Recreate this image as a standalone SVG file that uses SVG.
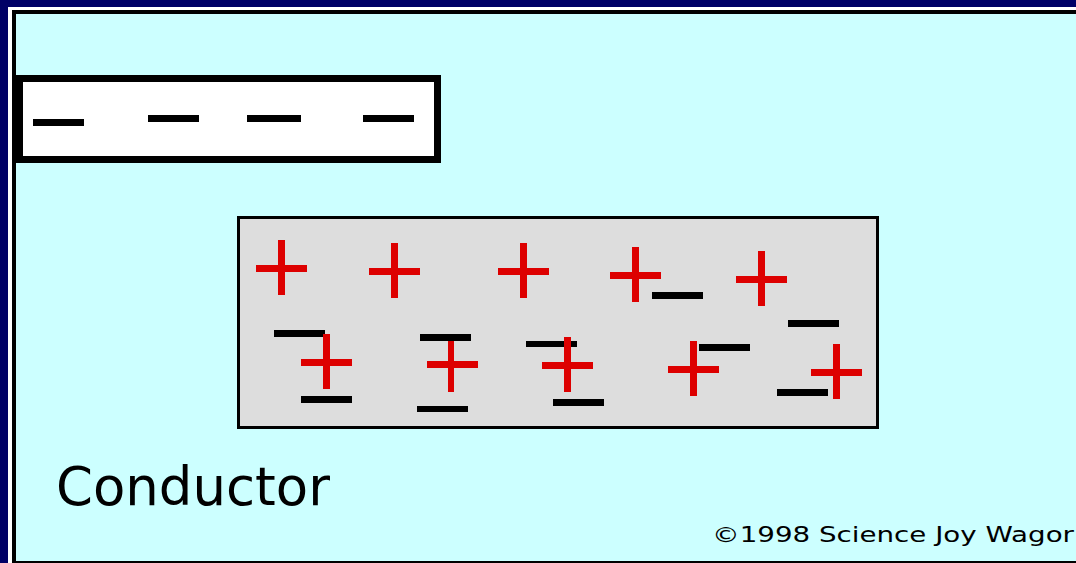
<svg xmlns="http://www.w3.org/2000/svg" width="1076" height="563" viewBox="0 0 1076 563">
<style>
.p{fill:#DD0000}
.m{fill:#000000}
.t{font-family:"DejaVu Sans",sans-serif;fill:#000}
</style>
<defs>
<g id="plus"><rect class="p" x="-3" y="-28" width="7" height="55"/><rect class="p" x="-25" y="-3" width="51" height="7"/></g>
</defs>
<rect width="1076" height="563" fill="#000066"/>
<rect x="8" y="7" width="1068" height="556" fill="#FFFFFF"/>
<rect x="12" y="10" width="1064" height="553" fill="#000000"/>
<rect x="16" y="14" width="1060" height="547" fill="#CCFFFF"/>
<g id="charged-rod">
<rect x="19.5" y="78.5" width="418" height="81" fill="#FFFFFF" stroke="#000" stroke-width="7"/>
<rect class="m" x="33" y="119" width="51" height="7"/>
<rect class="m" x="148" y="115" width="51" height="7"/>
<rect class="m" x="247" y="115" width="54" height="7"/>
<rect class="m" x="363" y="115" width="51" height="7"/>
</g>
<g id="conductor">
<rect x="238.5" y="217.5" width="639" height="210" fill="#DDDDDD" stroke="#000" stroke-width="3"/>
<rect class="m" x="652" y="292" width="51" height="7"/>
<rect class="m" x="788" y="320" width="51" height="7"/>
<rect class="m" x="274" y="330" width="51" height="7"/>
<rect class="m" x="301" y="396" width="51" height="7"/>
<rect class="m" x="420" y="334" width="51" height="7"/>
<rect class="m" x="417" y="406" width="51" height="6"/>
<rect class="m" x="526" y="341" width="51" height="6"/>
<rect class="m" x="553" y="399" width="51" height="7"/>
<rect class="m" x="699" y="344" width="51" height="7"/>
<rect class="m" x="777" y="389" width="51" height="7"/>
<use href="#plus" x="281" y="268"/>
<use href="#plus" x="394" y="271"/>
<use href="#plus" x="523" y="271"/>
<use href="#plus" x="635" y="275"/>
<use href="#plus" x="761" y="279"/>
<use href="#plus" x="326" y="362"/>
<rect class="p" x="448" y="341" width="6" height="51"/>
<rect class="p" x="427" y="361" width="51" height="7"/>
<use href="#plus" x="567" y="365"/>
<use href="#plus" x="693" y="369"/>
<use href="#plus" x="836" y="372"/>
</g>
<text class="t" x="56" y="505" font-size="53" textLength="274" lengthAdjust="spacingAndGlyphs">Conductor</text>
<text class="t" x="712" y="542" font-size="22" textLength="362" lengthAdjust="spacingAndGlyphs">©1998 Science Joy Wagor</text>
</svg>
